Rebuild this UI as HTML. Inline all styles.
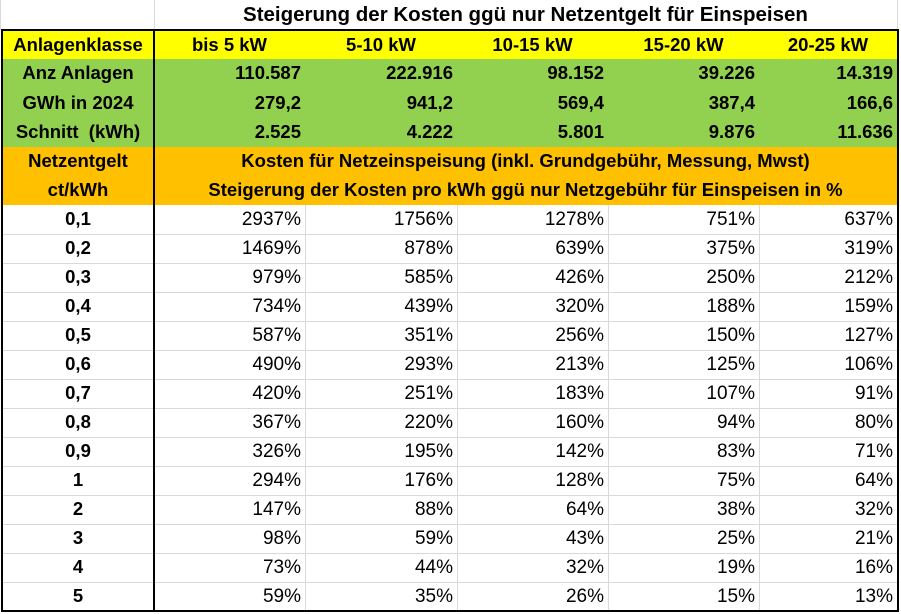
<!DOCTYPE html>
<html><head><meta charset="utf-8">
<style>
body{margin:0;width:901px;height:614px;background:#fff;overflow:hidden;font-family:"Liberation Sans",Arial,sans-serif;}
#t{position:relative;width:901px;height:614px;}
.c{position:absolute;box-sizing:border-box;font-size:19px;line-height:1;display:flex;align-items:center;color:#000;white-space:nowrap;}
.b{font-weight:bold;font-size:18.5px;}
.r{justify-content:flex-end;padding-right:4px;}
.m{justify-content:center;}
.ln{position:absolute;background:#000;}
.gl{position:absolute;background:#d9d9d9;}
</style></head><body>
<div id="t"></div>
<script>
const colX=[2,154,305,457,608,759,897];
const classes=["bis 5 kW","5-10 kW","10-15 kW","15-20 kW","20-25 kW"];
const anzAnlagen=["110.587","222.916","98.152","39.226","14.319"];
const gwh=["279,2","941,2","569,4","387,4","166,6"];
const schnitt=["2.525","4.222","5.801","9.876","11.636"];
const netzentgelt=["0,1","0,2","0,3","0,4","0,5","0,6","0,7","0,8","0,9","1","2","3","4","5"];
const s1=["2937%","1469%","979%","734%","587%","490%","420%","367%","326%","294%","147%","98%","73%","59%"];
const s2=["1756%","878%","585%","439%","351%","293%","251%","220%","195%","176%","88%","59%","44%","35%"];
const s3=["1278%","639%","426%","320%","256%","213%","183%","160%","142%","128%","64%","43%","32%","26%"];
const s4=["751%","375%","250%","188%","150%","125%","107%","94%","83%","75%","38%","25%","19%","15%"];
const s5=["637%","319%","212%","159%","127%","106%","91%","80%","71%","64%","32%","21%","16%","13%"];
const series=[s1,s2,s3,s4,s5];
const T=document.getElementById('t');
function cell(x,y,w,h,txt,cls,bg,name){
  const d=document.createElement('div');
  d.className='c '+cls;
  d.style.left=x+'px';d.style.top=y+'px';d.style.width=w+'px';d.style.height=h+'px';
  if(bg)d.style.background=bg;
  d.textContent=txt;
  
  
  T.appendChild(d);return d;
}
function line(cls,x,y,w,h,name){
  const d=document.createElement('div');
  d.className=cls;d.style.left=x+'px';d.style.top=y+'px';d.style.width=w+'px';d.style.height=h+'px';
  
  
  T.appendChild(d);
}
line('gl',154,0,1,30,'grid-line');line('gl',0,0,1,30,'grid-line');line('gl',897,0,1,30,'grid-line');
const title=cell(154,0,743,31,"Steigerung der Kosten ggü nur Netzentgelt für Einspeisen",'b m','', 'table-title');
title.style.fontSize='20.5px';
cell(2,31,895,28,"",'', '#ffff00','header-row-bg');
cell(2,31,152,28,"Anlagenklasse",'b m','', 'anlagenklasse-label');
classes.forEach((c,i)=>{cell(colX[i+1],31,colX[i+2]-colX[i+1],28,c,'b m','', 'class-header');});
cell(2,59,895,88,"",'', '#92d050','stats-bg');
const stats=[["Anz Anlagen",anzAnlagen],["GWh in 2024",gwh],["Schnitt  (kWh)",schnitt]];
stats.forEach((s,r)=>{
  const y=59+r*29.3;
  cell(2,y,152,29,s[0],'b m','', 'stats-label').style.whiteSpace='pre';
  s[1].forEach((v,i)=>{cell(colX[i+1],y,colX[i+2]-colX[i+1],29,v,'b r','', 'stats-value');});
});
cell(2,147,895,58,"",'', '#ffc000','orange-bg');
cell(2,147,152,29,"Netzentgelt",'b m','', 'netzentgelt-label');
cell(2,176,152,29,"ct/kWh",'b m','', 'unit-label');
cell(154,147,743,29,"Kosten für Netzeinspeisung (inkl. Grundgebühr, Messung, Mwst)",'b m','', 'subtitle-1');
cell(154,176,743,29,"Steigerung der Kosten pro kWh ggü nur Netzgebühr für Einspeisen in %",'b m','', 'subtitle-2');
const rh=29;
netzentgelt.forEach((n,r)=>{
  const y=205+r*rh;
  if(r>0)line('gl',2,y,895,1,'row-line');
  cell(2,y,152,rh,n,'b m','', 'netzentgelt-value');
  series.forEach((s,i)=>{cell(colX[i+1],y,colX[i+2]-colX[i+1],rh,s[r],'r','', 'percent-value');});
});
for(let i=2;i<6;i++)line('gl',colX[i],205,1,406,'col-line');
line('ln',1,29,898,2,'border-top');
line('ln',1,610,898,2,'border-bottom');
line('ln',1,29,2,583,'border-left');
line('ln',897,29,2,583,'border-right');
line('ln',153,29,2,583,'divider-left-col');
</script>
</body></html>
